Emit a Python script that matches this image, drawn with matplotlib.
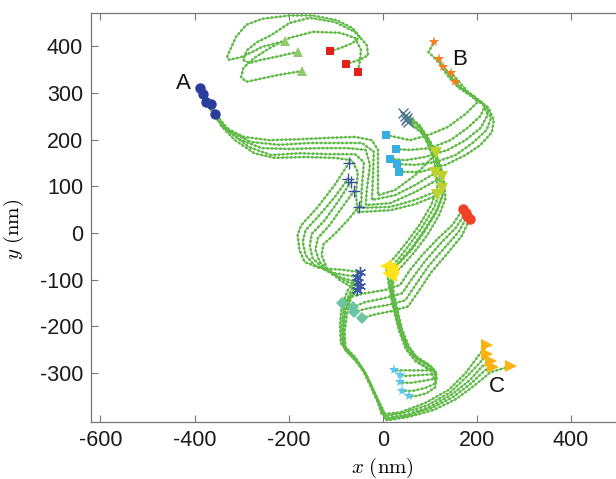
import matplotlib.pyplot as plt
import numpy as np

plt.rcParams['font.family'] = 'Liberation Sans'
plt.rcParams['mathtext.fontset'] = 'cm'
plt.rcParams['axes.unicode_minus'] = False

GREEN = '#5fba46'

# ===== TRAJECTORIES (x, y in nm) =====
top_paths = [
    [(-207, 411), (-226, 407), (-256, 399), (-277, 388), (-301, 377), (-326, 371), (-331, 377),
     (-312, 420), (-290, 446), (-256, 459), (-198, 466), (-149, 466), (-98, 456), (-64, 439),
     (-49, 420), (-64, 407), (-91, 396), (-111, 390)],
    [(-181, 388), (-220, 379), (-258, 371), (-284, 364), (-297, 371), (-288, 392), (-267, 409),
     (-237, 424), (-198, 450), (-155, 461), (-102, 452), (-59, 431), (-34, 403), (-31, 381),
     (-49, 371), (-79, 362)],
    [(-172, 347), (-220, 339), (-262, 330), (-290, 324), (-301, 334), (-296, 354), (-273, 375),
     (-241, 396), (-198, 418), (-149, 431), (-91, 429), (-59, 418), (-46, 392), (-49, 366),
     (-53, 345)],
]

a_paths = [
    [(-389, 311), (-376, 285), (-361, 257), (-337, 227), (-295, 206), (-241, 199), (-177, 201),
     (-113, 204), (-59, 206), (-23, 199), (-10, 178), (-10, 124), (-10, 81), (26, 92), (69, 124),
     (114, 171)],
    [(-382, 298), (-367, 272), (-350, 242), (-322, 216), (-280, 195), (-220, 189), (-155, 193),
     (-91, 193), (-44, 193), (-19, 174), (-21, 114), (-23, 71), (26, 81), (69, 103), (112, 129)],
    [(-376, 281), (-361, 257), (-339, 227), (-305, 201), (-258, 182), (-198, 180), (-134, 182),
     (-74, 182), (-36, 178), (-27, 146), (-34, 92), (-36, 60), (16, 64), (69, 88), (127, 120)],
    [(-365, 276), (-348, 246), (-322, 214), (-284, 184), (-237, 167), (-177, 171), (-113, 169),
     (-59, 169), (-40, 152), (-44, 103), (-46, 54), (16, 56), (69, 71), (125, 94)],
    [(-356, 255), (-343, 229), (-314, 199), (-273, 171), (-230, 161), (-166, 163), (-102, 161),
     (-66, 156), (-53, 131), (-57, 81), (-53, 45), (16, 49), (69, 62), (116, 81)],
]

b_paths = [
    [(7, 210), (26, 206), (58, 199), (97, 210), (138, 227), (176, 255), (202, 281), (191, 296),
     (165, 311), (135, 349), (114, 371), (97, 388), (110, 409)],
    [(28, 180), (58, 178), (101, 182), (144, 199), (180, 225), (208, 251), (217, 272), (197, 291),
     (172, 306), (144, 330), (129, 349), (120, 373)],
    [(16, 159), (48, 156), (90, 163), (138, 178), (176, 199), (208, 225), (223, 253), (212, 279),
     (187, 294), (159, 313), (129, 356)],
    [(31, 148), (69, 146), (112, 152), (155, 167), (191, 193), (221, 221), (230, 246), (219, 272),
     (195, 287), (170, 315), (146, 343)],
    [(35, 131), (80, 131), (133, 146), (176, 167), (208, 189), (232, 216), (236, 242), (225, 268),
     (204, 285), (178, 302), (153, 324)],
]

xm_paths = [
    [(43, 257), (71, 238), (90, 204), (105, 167), (114, 131), (116, 96), (103, 60), (78, 17),
     (50, -21), (26, -51), (7, -71)],
    [(48, 251), (78, 231), (97, 199), (112, 163), (120, 126), (123, 92), (110, 56), (84, 13),
     (56, -26), (33, -56), (16, -75)],
    [(52, 246), (82, 225), (103, 193), (118, 156), (127, 120), (129, 88), (116, 51), (90, 9),
     (63, -30), (37, -60), (22, -79)],
    [(50, 242), (80, 219), (101, 186), (116, 150), (125, 114), (127, 79), (114, 45), (88, 2),
     (61, -36), (35, -64), (11, -86)],
    [(54, 238), (86, 212), (107, 180), (123, 144), (131, 107), (133, 73), (120, 39), (95, -4),
     (67, -41), (41, -71), (18, -92)],
]

cross_paths = [
    [(-72, 150), (-102, 103), (-138, 56), (-173, 17), (-181, -4), (-177, -36), (-166, -62),
     (-134, -75), (-81, -79), (-49, -84)],
    [(-74, 116), (-102, 77), (-134, 39), (-164, 6), (-170, -19), (-164, -47), (-145, -69),
     (-102, -86), (-55, -94)],
    [(-68, 109), (-96, 66), (-123, 28), (-151, -2), (-155, -28), (-149, -54), (-123, -79),
     (-87, -96), (-53, -105)],
    [(-61, 90), (-87, 54), (-113, 17), (-138, -11), (-143, -36), (-134, -62), (-108, -88),
     (-74, -105), (-49, -114)],
    [(-51, 56), (-74, 28), (-100, 0), (-126, -24), (-130, -47), (-119, -75), (-91, -101),
     (-66, -116), (-55, -122)],
]

s_paths = [
    [(-49, -84), (-74, -122), (-87, -154), (-91, -197), (-89, -236), (-66, -262), (-44, -289),
     (-27, -326), (-10, -364), (-2, -388), (37, -384), (90, -364), (140, -336), (176, -300),
     (204, -262), (222, -240)],
    [(-55, -94), (-70, -129), (-83, -161), (-87, -199), (-85, -240), (-61, -266), (-40, -294),
     (-23, -330), (-6, -369), (3, -392), (41, -386), (95, -369), (144, -341), (180, -306),
     (208, -276), (222, -259)],
    [(-53, -105), (-74, -144), (-81, -169), (-83, -204), (-81, -242), (-57, -268), (-38, -298),
     (-21, -334), (-4, -373), (5, -396), (46, -390), (99, -373), (148, -345), (185, -315),
     (212, -285), (230, -274)],
    [(-49, -114), (-66, -135), (-79, -165), (-85, -208), (-83, -246), (-59, -272), (-36, -302),
     (-19, -339), (-2, -377), (7, -399), (50, -392), (103, -375), (150, -351), (189, -321),
     (217, -294), (234, -287)],
    [(-55, -122), (-68, -139), (-76, -174), (-81, -212), (-79, -251), (-55, -274), (-34, -306),
     (-17, -343), (1, -379), (9, -401), (54, -394), (108, -379), (155, -356), (193, -328),
     (229, -298), (272, -285)],
]

y_paths = [
    [(7, -71), (13, -111), (22, -154), (33, -197), (48, -236), (67, -262), (97, -281), (110, -294),
     (80, -294), (48, -294), (23, -294)],
    [(16, -75), (18, -116), (26, -159), (37, -201), (52, -240), (71, -266), (101, -285),
     (116, -302), (80, -304), (48, -306), (36, -304)],
    [(22, -79), (22, -120), (31, -163), (41, -206), (56, -244), (75, -270), (105, -289),
     (116, -311), (84, -317), (58, -321), (36, -320)],
    [(11, -86), (16, -124), (24, -167), (35, -210), (49, -248), (69, -274), (101, -294),
     (114, -321), (90, -332), (63, -338), (41, -338)],
    [(18, -92), (20, -129), (28, -171), (39, -214), (54, -253), (80, -279), (112, -298),
     (112, -330), (93, -343), (71, -349), (55, -350)],
]

d_paths = [
    [(-87, -150), (-70, -137), (-38, -129), (5, -122), (37, -111), (58, -79), (84, -47),
     (118, -11), (148, 17), (170, 51)],
    [(-64, -159), (-38, -148), (5, -139), (41, -129), (65, -94), (90, -60), (124, -21), (155, 11),
     (176, 43)],
    [(-61, -169), (-31, -161), (11, -154), (48, -144), (71, -109), (97, -71), (131, -32), (161, 2),
     (180, 36)],
    [(-44, -182), (-16, -174), (20, -167), (54, -157), (78, -122), (103, -84), (138, -43),
     (168, -6), (185, 30)],
]

# ===== MARKERS (x, y in nm) =====
top_tri_x, top_tri_y = [-207, -181, -172], [411, 388, 347]
top_sq_x, top_sq_y = [-111, -79, -53], [390, 362, 345]
a_x, a_y = [-389, -382, -376, -365, -356], [311, 298, 281, 276, 255]
b_x, b_y = [110, 120, 129, 146, 153], [409, 373, 356, 343, 324]
cyan_sq_x, cyan_sq_y = [7, 28, 16, 31, 35], [210, 180, 159, 148, 131]
yg_tri_x, yg_tri_y = [114, 112, 127, 125, 116], [171, 129, 120, 94, 81]
cross_x, cross_y = [-72, -74, -68, -61, -51], [150, 116, 109, 90, 56]
xmark_x, xmark_y = [43, 48, 52, 50, 54], [257, 251, 246, 242, 238]
red_x, red_y = [170, 176, 180, 185], [51, 43, 36, 30]
yel_x, yel_y = [7, 16, 22, 11, 18], [-71, -75, -79, -86, -92]
ast_x, ast_y = [-49, -55, -53, -49, -55], [-84, -94, -105, -114, -122]
dia_x, dia_y = [-87, -64, -61, -44], [-150, -159, -169, -182]
cstar_x, cstar_y = [23, 36, 36, 41, 55], [-294, -304, -320, -338, -350]
c_x, c_y = [222, 222, 230, 234, 272], [-240, -259, -274, -287, -285]

x_ticks = [-600, -400, -200, 0, 200, 400]
y_ticks = [-300, -200, -100, 0, 100, 200, 300, 400]

# ===== FIGURE =====
fig = plt.figure(figsize=(6.16, 4.79), dpi=100)
ax = fig.add_axes([0.1485, 0.1196, 0.9456, 0.8539])

all_paths = top_paths + a_paths + b_paths + xm_paths + cross_paths + s_paths + y_paths + d_paths
for path in all_paths:
    xy = np.array(path, dtype=float)
    ax.plot(xy[:, 0], xy[:, 1], color=GREEN, lw=0.7, zorder=1)
    ax.plot(xy[:, 0], xy[:, 1], color=GREEN, lw=2.1, ls=(0, (0.01, 1.45)),
            dash_capstyle='round', zorder=2)

markers = [
    (top_tri_x, top_tri_y, '^', '#93c96e', 7, 0),
    (top_sq_x, top_sq_y, 's', '#e3211c', 5.5, 0),
    (a_x, a_y, 'o', '#2b3d9c', 7.5, 0),
    (b_x, b_y, '*', '#f47f20', 8, 0),
    (cyan_sq_x, cyan_sq_y, 's', '#35aee2', 5.5, 0),
    (yg_tri_x, yg_tri_y, 'v', '#bfd22b', 8, 0),
    (cross_x, cross_y, '+', '#3a4f9e', 8, 1.0),
    (xmark_x, xmark_y, 'x', '#4d7493', 7, 1.0),
    (red_x, red_y, 'o', '#ef4125', 7.5, 0),
    (yel_x, yel_y, '<', '#ffe21a', 8, 0),
    (ast_x, ast_y, (6, 2, 0), '#3c55a8', 8, 1.0),
    (dia_x, dia_y, 'D', '#6cc4a4', 6, 0),
    (cstar_x, cstar_y, '*', '#5cc5ec', 8, 0),
    (c_x, c_y, '>', '#ffb20f', 8, 0),
]
for mx, my, mk, col, ms, mew in markers:
    ax.plot(mx, my, ls='none', marker=mk, color=col, ms=ms,
            mew=mew if mew else 0, zorder=4)

# ===== LABELS A, B, C =====
ax.text(-424, 321, 'A', fontsize=16, ha='center', va='center', color='#111111')
ax.text(164, 372, 'B', fontsize=16, ha='center', va='center', color='#111111')
ax.text(242, -329, 'C', fontsize=16, ha='center', va='center', color='#111111')

# ===== AXES =====
ax.set_xlim(-619, 619)
ax.set_ylim(-404, 472)
ax.set_xticks(x_ticks)
ax.set_yticks(y_ticks)
ax.tick_params(direction='in', top=True, right=True, length=5, width=0.8,
               labelsize=15.5, pad=6, colors='#777777', labelcolor='#1a1a1a')
for sp in ax.spines.values():
    sp.set_color('#777777')
    sp.set_linewidth(0.9)

ax.set_xlabel(r'$x\ (\mathrm{nm})$', fontsize=15)
ax.set_ylabel(r'$y\ (\mathrm{nm})$', fontsize=15)
ax.xaxis.set_label_coords(0.5004, -0.084)
ax.yaxis.set_label_coords(-0.112, 0.47)

plt.savefig('out.png', dpi=100)
